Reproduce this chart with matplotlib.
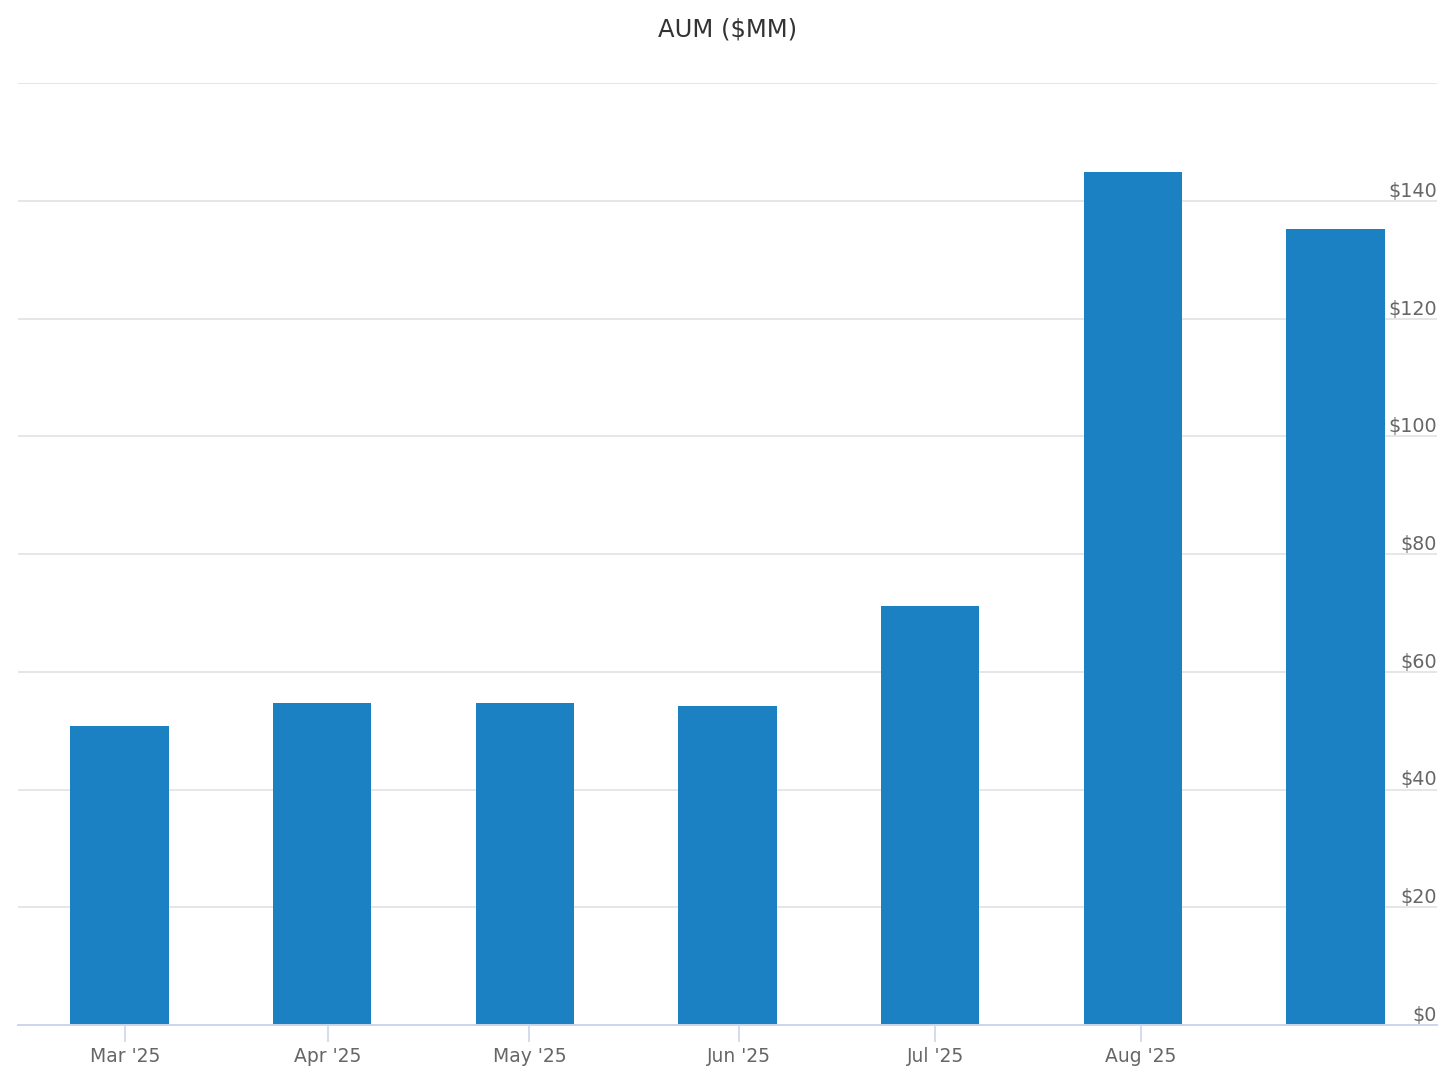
import matplotlib
matplotlib.use("Agg")
import matplotlib.pyplot as plt
from matplotlib.transforms import offset_copy

# Data
months = ["Mar '25", "Apr '25", "May '25", "Jun '25", "Jul '25", "Aug '25", "Sep '25"]
aum = [50.8, 54.7, 54.7, 54.2, 71.2, 144.8, 135.2]
tick_labels = ["Mar '25", "Apr '25", "May '25", "Jun '25", "Jul '25", "Aug '25"]
tick_offsets = [0.027, 0.028, 0.023, 0.058, 0.025, 0.04]
y_ticks = [0, 20, 40, 60, 80, 100, 120, 140, 160]
y_labels = ["$0", "$20", "$40", "$60", "$80", "$100", "$120", "$140", ""]

plt.rcParams['font.family'] = ['DejaVu Sans']
fig = plt.figure(figsize=(14.56, 10.92), dpi=100)
W, H = 1456, 1092
ax = fig.add_axes([18 / W, 1 - 1025 / H, (1437 - 18) / W, (1025 - 83) / H])

x = list(range(len(aum)))
ax.bar(x, aum, width=0.485, color="#1c81c3", zorder=2)

ax.set_xlim(-0.5, 6.5)
ax.set_ylim(0, 160)

# gridlines
for v in y_ticks[1:]:
    ax.axhline(v, color="#e6e6e6", linewidth=1.4, zorder=1)
ax.set_yticks([])

for s in ["top", "right", "left"]:
    ax.spines[s].set_visible(False)
ax.spines["bottom"].set_color("#ccd6eb")
ax.spines["bottom"].set_linewidth(1.4)
ax.spines["bottom"].set_zorder(3)

# x ticks
ax.set_xticks([i + o for i, o in zip(range(len(tick_labels)), tick_offsets)])
ax.set_xticklabels(tick_labels, color="#666666", fontsize=13.5)
ax.tick_params(axis="x", length=12, width=1.2, color="#ccd6eb", pad=4)

# y labels on the right, above gridlines
trans = offset_copy(ax.get_yaxis_transform(), fig=fig, x=0, y=4, units="dots")
for v, lab in zip(y_ticks, y_labels):
    if lab:
        ax.text(1.0, v, lab, transform=trans, ha="right", va="baseline",
                color="#666666", fontsize=13.8, zorder=4)

fig.text(728 / W, 1 - 30 / H, "AUM ($MM)", ha="center", va="center",
         color="#333333", fontsize=17.5)

fig.savefig("out.png", dpi=100, facecolor="white")
